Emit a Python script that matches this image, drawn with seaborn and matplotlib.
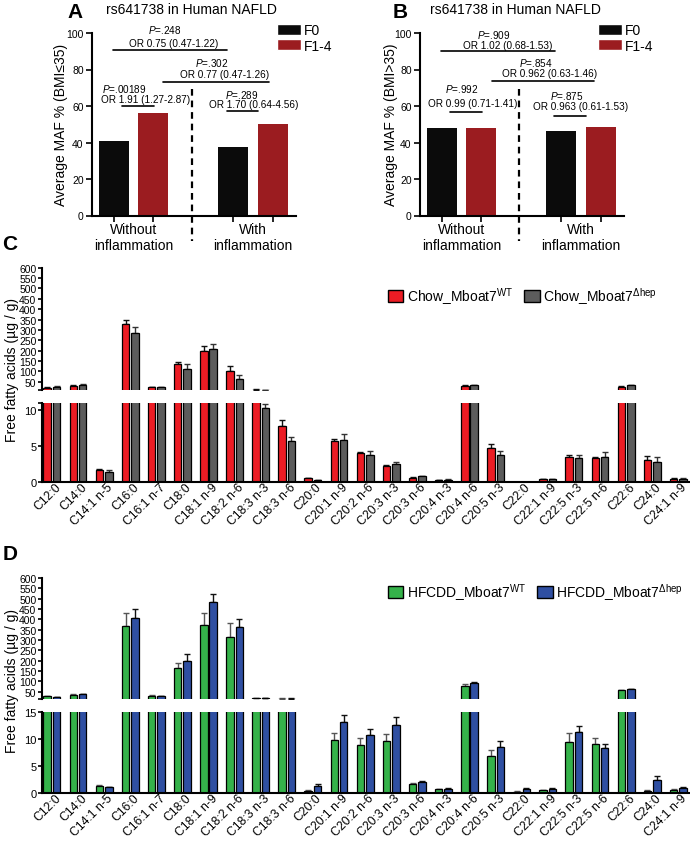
import numpy as np
import pandas as pd
import matplotlib
matplotlib.use("Agg")
import matplotlib.pyplot as plt
import matplotlib.transforms as mtrans
import seaborn as sns
from matplotlib.patches import Patch

sns.set_theme(style="ticks", rc={"axes.edgecolor": "black", "xtick.color": "black",
                                 "ytick.color": "black", "text.color": "black",
                                 "axes.labelcolor": "black"})
plt.rcParams["font.family"] = ["Liberation Sans", "DejaVu Sans"]
plt.rcParams["mathtext.fontset"] = "custom"
plt.rcParams["mathtext.rm"] = "Liberation Sans"
plt.rcParams["mathtext.it"] = "Liberation Sans:italic"
plt.rcParams["mathtext.bf"] = "Liberation Sans:bold"

# ---------------- data: panels A / B ----------------
conditions = ["Without\ninflammation", "With\ninflammation"]
stages = ["F0", "F1-4"]
maf_a_f0 = [40.6, 37.4]
maf_a_f14 = [56.0, 50.0]
maf_b_f0 = [47.9, 46.3]
maf_b_f14 = [48.0, 48.3]
a_pvals = [".248", ".302", ".00189", ".289"]
a_ors = ["OR 0.75 (0.47-1.22)", "OR 0.77 (0.47-1.26)", "OR 1.91 (1.27-2.87)", "OR 1.70 (0.64-4.56)"]
b_pvals = [".909", ".854", ".992", ".875"]
b_ors = ["OR 1.02 (0.68-1.53)", "OR 0.962 (0.63-1.46)", "OR 0.99 (0.71-1.41)", "OR 0.963 (0.61-1.53)"]

# ---------------- data: panels C / D ----------------
fatty_acids = ["C12:0", "C14:0", "C14:1 n-5", "C16:0", "C16:1 n-7", "C18:0", "C18:1 n-9",
               "C18:2 n-6", "C18:3 n-3", "C18:3 n-6", "C20:0", "C20:1 n-9", "C20:2 n-6",
               "C20:3 n-3", "C20:3 n-6", "C20:4 n-3", "C20:4 n-6", "C20:5 n-3", "C22:0",
               "C22:1 n-9", "C22:5 n-3", "C22:5 n-6", "C22:6", "C24:0", "C24:1 n-9"]
chow_wt = [20, 29, 1.73, 329, 24, 135, 196, 101, 12, 7.84, 0.55, 5.68, 4.03, 2.33, 0.64, 0.3,
           30, 4.72, 0.05, 0.41, 3.48, 3.34, 26, 3.07, 0.45]
chow_wt_err = [3, 3, 0.1, 20, 2, 9, 28, 24, 0.5, 0.8, 0.05, 0.27, 0.2, 0.1, 0.05, 0.03,
               2, 0.64, 0.02, 0.05, 0.27, 0.14, 1.5, 0.55, 0.2]
chow_ko = [25, 32, 1.46, 284, 23, 112, 209, 63, 10.36, 5.78, 0.3, 5.86, 3.85, 2.52, 0.86, 0.35,
           33, 3.85, 0.05, 0.45, 3.44, 3.53, 32, 2.88, 0.5]
chow_ko_err = [5, 6, 0.3, 30, 2, 23, 21, 18, 0.5, 0.55, 0.05, 0.85, 0.55, 0.3, 0.08, 0.05,
               2, 0.55, 0.02, 0.05, 0.35, 0.64, 1.5, 0.6, 0.1]
hfcdd_wt = [28, 36, 1.35, 366, 29, 163, 373, 313, 19, 17, 0.48, 9.93, 9.0, 9.68, 1.72, 0.74,
            79, 6.85, 0.3, 0.6, 9.56, 9.07, 57, 0.48, 0.67]
hfcdd_wt_err = [3, 3, 0.25, 65, 3, 27, 56, 68, 1, 1, 0.05, 1.24, 1.2, 1.3, 0.1, 0.05,
                7, 1.2, 0.05, 0.05, 1.55, 1.2, 2, 0.15, 0.1]
hfcdd_ko = [25, 38, 1.1, 408, 27.5, 200, 482, 363, 18, 17, 1.3, 13.2, 10.8, 12.7, 2.09, 0.86,
            90, 8.5, 0.8, 0.85, 11.3, 8.4, 61, 2.46, 1.04]
hfcdd_ko_err = [2, 3, 0.08, 42, 2, 34, 42, 37, 1, 1, 0.37, 1.3, 1.05, 1.37, 0.1, 0.05,
                9, 1.1, 0.12, 0.05, 1.2, 0.8, 3, 0.8, 0.1]
chow_labels = ["Chow_Mboat7$^{\\mathrm{WT}}$", "Chow_Mboat7$^{\\Delta\\mathrm{hep}}$"]
hfcdd_labels = ["HFCDD_Mboat7$^{\\mathrm{WT}}$", "HFCDD_Mboat7$^{\\Delta\\mathrm{hep}}$"]

W, H = 690, 845
fig = plt.figure(figsize=(W / 100, H / 100), dpi=100)


def ax_px(left, top, right, bottom):
    return fig.add_axes([left / W, 1 - bottom / H, (right - left) / W, (bottom - top) / H])


def style_spines(ax, bottom=True):
    sns.despine(ax=ax, bottom=not bottom)
    for s in ["left", "bottom"]:
        ax.spines[s].set_linewidth(1.5)


# ---------------- panels A / B ----------------
def maf_panel(ax, f0, f14, pvals, ors, geo, legend_x):
    df = pd.DataFrame({"condition": conditions * 2,
                       "stage": ["F0"] * 2 + ["F1-4"] * 2,
                       "maf": list(f0) + list(f14)})
    sns.barplot(data=df, x="condition", y="maf", hue="stage", order=conditions,
                hue_order=stages, palette=["#0b0b0b", "#9b1c20"], width=0.66, gap=0.24,
                errorbar=None, legend=False, saturation=1, linewidth=0, ax=ax)
    style_spines(ax)
    ax.set_ylim(0, 100)
    ax.set_yticks(range(0, 101, 20))
    ax.tick_params(axis="y", labelsize=7.5, length=4, width=1.2, pad=2)
    centers = [b.get_x() + b.get_width() / 2 for c in ax.containers for b in c]
    ax.set_xticks(centers, minor=True)
    ax.tick_params(axis="x", which="minor", length=4, width=1.2)
    ax.tick_params(axis="x", which="major", length=0, pad=5, labelsize=10)
    ax.set_xticks([0, 1])
    ax.set_xticklabels(conditions, linespacing=1.1)
    ax.set_xlabel("")
    ax.set_ylabel("")
    ax.set_xlim(-0.35, 1.36)
    for (x0, x1, y), p, o, (px, py), (ox, oy) in zip(geo["lines"], pvals, ors, geo["p"], geo["or"]):
        ax.plot([x0, x1], [y, y], color="black", lw=1.2, clip_on=False)
        ax.text(px, py, f"$P$={p}", ha="center", va="center", fontsize=7.2, clip_on=False)
        ax.text(ox, oy, o, ha="center", va="center", fontsize=7.2, clip_on=False)
    ax.plot([geo["dash"], geo["dash"]], [69.3, -13.8], color="black", lw=1.6,
            ls=(0, (3, 2.2)), clip_on=False, zorder=5)
    handles = [Patch(facecolor="#0b0b0b"), Patch(facecolor="#9b1c20")]
    fig.legend(handles, stages, loc="upper left", bbox_to_anchor=(legend_x / W, 1 - 24 / H),
               frameon=False, fontsize=10, handlelength=1.75, handleheight=0.85,
               labelspacing=0.12, handletextpad=0.2, borderpad=0, borderaxespad=0)


axA = ax_px(92, 34, 296, 216.5)
maf_panel(axA, maf_a_f0, maf_a_f14, a_pvals, a_ors,
          {"lines": [(-0.171, 0.779, 90.7), (0.246, 1.137, 73.3), (-0.096, 0.171, 60), (0.779, 1.04, 57)],
           "p": [(0.263, 102.2), (0.656, 84.0), (-0.083, 69.7), (0.904, 66.8)],
           "or": [(0.338, 94.3), (0.758, 77.5), (0.095, 63.8), (1.008, 61.0)],
           "dash": 0.4875}, 277)
axB = ax_px(420, 34, 624, 216.5)
maf_panel(axB, maf_b_f0, maf_b_f14, b_pvals, b_ors,
          {"lines": [(-0.175, 0.783, 90.0), (0.25, 1.108, 73.7), (-0.1, 0.167, 56.5), (0.775, 1.04, 54.6)],
           "p": [(0.271, 99.5), (0.621, 84.3), (0.0, 69.7), (0.883, 66.2)],
           "or": [(0.383, 93.4), (0.733, 77.9), (0.092, 61.5), (1.0, 60.2)],
           "dash": 0.483}, 598)

fig.text(61 / W, 1 - 125 / H, "Average MAF % (BMI≤35)", rotation=90, ha="center", va="center", fontsize=10)
fig.text(391 / W, 1 - 125 / H, "Average MAF % (BMI>35)", rotation=90, ha="center", va="center", fontsize=10)
fig.text(191 / W, 1 - 10 / H, "rs641738 in Human NAFLD", ha="center", va="center", fontsize=10)
fig.text(515 / W, 1 - 10 / H, "rs641738 in Human NAFLD", ha="center", va="center", fontsize=10)
for lab, x, y in [("A", 75, 12), ("B", 400, 12), ("C", 10, 245), ("D", 10, 555)]:
    fig.text(x / W, 1 - y / H, lab, ha="center", va="center", fontsize=15, fontweight="bold")


# ---------------- panels C / D ----------------
def fa_panel(top_geo, low_geo, v1, e1, v2, e2, labels, colors, ecolors, up_lim, low_lim,
             low_ticks, legend_y, ylab_y):
    ax_up = ax_px(*top_geo)
    ax_lo = ax_px(*low_geo)
    df = pd.DataFrame({"fa": fatty_acids * 2,
                       "grp": [labels[0]] * len(fatty_acids) + [labels[1]] * len(fatty_acids),
                       "val": list(v1) + list(v2)})
    errs = [e1, e2]
    for ax, (lo, hi) in ((ax_up, up_lim), (ax_lo, low_lim)):
        sns.barplot(data=df, x="fa", y="val", hue="grp", order=fatty_acids, hue_order=labels,
                    palette=colors, width=0.72, gap=0.2, errorbar=None, legend=False,
                    saturation=1, edgecolor="black", linewidth=0.9, ax=ax)
        for cont, err, ec in zip(ax.containers, errs, ecolors):
            xs, ys, es = [], [], []
            for b, e in zip(cont, err):
                h = b.get_height()
                if h + e <= lo:
                    b.set_visible(False)
                    continue
                if lo > 0:
                    # push the bar's base far below the visible window
                    b.set_y(-hi)
                    b.set_height(h + hi)
                if h < hi:
                    xs.append(b.get_x() + b.get_width() / 2)
                    ys.append(h)
                    es.append(e)
            ax.errorbar(xs, ys, yerr=[np.zeros(len(es)), es], fmt="none", ecolor=ec,
                        elinewidth=1, capsize=2, capthick=1, zorder=0.5)
        ax.set_xlim(-0.38, 24.45)
        ax.set_xlabel("")
        ax.set_ylabel("")
    style_spines(ax_up, bottom=False)
    style_spines(ax_lo)
    ax_up.set_ylim(*up_lim)
    up_ticks = [up_lim[0]] + list(range(50, 601, 50))
    ax_up.set_yticks(up_ticks)
    ax_up.set_yticklabels([""] + [str(t) for t in range(50, 601, 50)])
    ax_up.tick_params(axis="y", labelsize=7.5, length=3, width=1.2, pad=1)
    ax_up.set_xticks([])
    ax_lo.set_ylim(*low_lim)
    ax_lo.set_yticks(low_ticks)
    ax_lo.set_yticklabels([str(t) if t in (0, 5, 10, 15) else "" for t in low_ticks])
    ax_lo.tick_params(axis="y", labelsize=8, length=3, width=1.2, pad=1)
    ax_lo.set_xticks(range(len(fatty_acids)))
    ax_lo.set_xticklabels(fatty_acids, rotation=45, ha="right", va="center",
                          rotation_mode="anchor", fontsize=8.8)
    ax_lo.tick_params(axis="x", length=0, pad=2)
    shift = mtrans.ScaledTranslation(7 / 100, 0, fig.dpi_scale_trans)
    for lbl in ax_lo.get_xticklabels():
        lbl.set_transform(lbl.get_transform() + shift)
    handles = [Patch(facecolor=colors[0], edgecolor="black", linewidth=1),
               Patch(facecolor=colors[1], edgecolor="black", linewidth=1)]
    fig.legend(handles, labels, loc="center left", bbox_to_anchor=(388 / W, 1 - legend_y / H),
               ncol=2, frameon=False, fontsize=10, handlelength=1.1, handleheight=0.9,
               handletextpad=0.25, columnspacing=0.8, borderpad=0, borderaxespad=0)
    fig.text(12 / W, 1 - ylab_y / H, "Free fatty acids (µg / g)", rotation=90,
             ha="center", va="center", fontsize=10)


fa_panel((42, 268.7, 690, 391), (42, 404, 690, 483.3), chow_wt, chow_wt_err, chow_ko, chow_ko_err,
         chow_labels, ["#ec1c24", "#5c5c5c"], ["#111111", "#333333"], (10, 600), (0, 11),
         [0, 5, 10, 11], 297, 370)
fa_panel((42, 579, 690, 700), (42, 713.3, 690, 794.3), hfcdd_wt, hfcdd_wt_err, hfcdd_ko, hfcdd_ko_err,
         hfcdd_labels, ["#35b24a", "#2f4fa2"], ["#555555", "#111111"], (15, 600), (0, 15),
         [0, 5, 10, 15], 593, 681)

fig.savefig("out.png", dpi=100)
